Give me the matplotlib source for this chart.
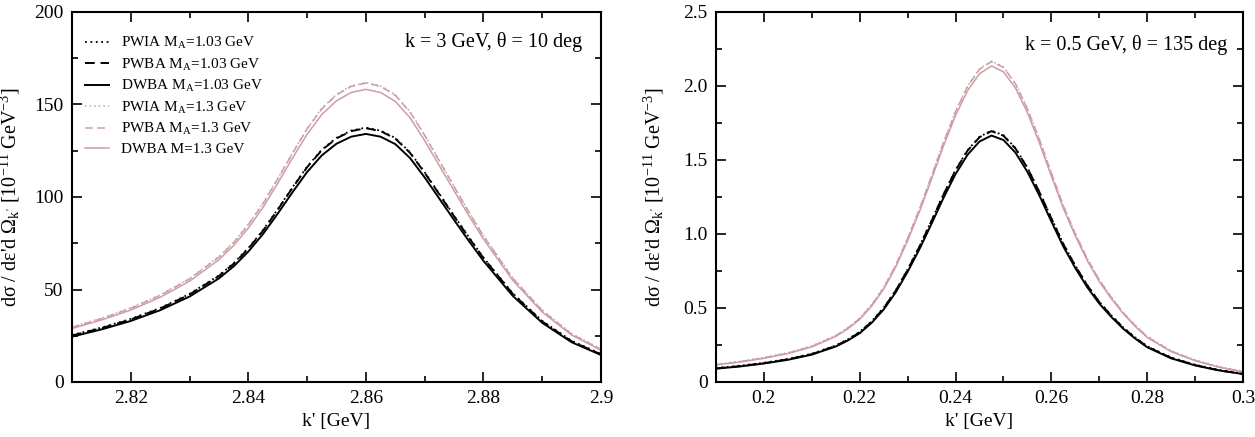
import matplotlib
matplotlib.use("Agg")
import matplotlib.pyplot as plt
from matplotlib.ticker import MultipleLocator

plt.rcParams['font.family'] = ['Liberation Serif', 'DejaVu Serif']
plt.rcParams['mathtext.fontset'] = 'custom'
plt.rcParams['mathtext.rm'] = 'Liberation Serif'
plt.rcParams['mathtext.it'] = 'Liberation Serif:italic'

# left panel: k = 3 GeV, theta = 10 deg
kp_left = [2.81, 2.815, 2.82, 2.825, 2.83, 2.835, 2.8375, 2.84, 2.8425, 2.845, 2.8475,
           2.85, 2.8525, 2.855, 2.8575, 2.86, 2.8625, 2.865, 2.8675, 2.87, 2.8725,
           2.875, 2.8775, 2.88, 2.885, 2.89, 2.895, 2.9]
pwia_103_left = [25.4, 29.4, 34.1, 40.0, 47.6, 57.6, 64.2, 72.4, 82.1, 93.4, 105.2,
                 116.4, 125.6, 132.0, 135.9, 137.5, 135.9, 131.9, 124.2, 113.4, 101.7,
                 89.9, 78.4, 67.3, 47.9, 33.0, 22.3, 15.2]
pwba_103_left = [25.1, 29.1, 33.8, 39.7, 47.3, 57.3, 63.9, 72.1, 81.8, 93.1, 104.9,
                 116.1, 125.3, 131.7, 135.6, 137.2, 135.6, 131.6, 123.9, 113.1, 101.4,
                 89.6, 78.1, 67.0, 47.6, 32.7, 22.0, 14.9]
dwba_103_left = [24.5, 28.4, 33.0, 38.8, 46.2, 56.0, 62.5, 70.5, 80.0, 91.0, 102.5,
                 113.5, 122.5, 128.8, 132.6, 134.1, 132.6, 128.6, 121.1, 110.6, 99.1,
                 87.6, 76.3, 65.5, 46.5, 32.0, 21.5, 14.6]
pwia_13_left = [29.8, 34.5, 40.1, 47.1, 56.0, 67.8, 75.6, 85.3, 96.7, 110.0, 123.8,
                137.1, 147.9, 155.5, 160.1, 161.9, 160.1, 155.3, 146.2, 133.6, 119.7,
                105.9, 92.2, 79.2, 56.3, 38.9, 26.2, 17.9]
pwba_13_left = [29.5, 34.2, 39.8, 46.8, 55.7, 67.5, 75.3, 85.0, 96.4, 109.7, 123.5,
                136.8, 147.6, 155.2, 159.8, 161.6, 159.8, 155.0, 145.9, 133.3, 119.4,
                105.6, 91.9, 78.9, 56.0, 38.6, 25.9, 17.6]
dwba_13_left = [28.9, 33.5, 38.9, 45.8, 54.5, 66.1, 73.8, 83.2, 94.4, 107.4, 121.0,
                133.9, 144.6, 152.0, 156.5, 158.2, 156.5, 151.7, 142.9, 130.5, 116.9,
                103.4, 90.0, 77.3, 54.9, 37.8, 25.4, 17.2]

# right panel: k = 0.5 GeV, theta = 135 deg
kp_right = [0.19, 0.195, 0.2, 0.205, 0.21, 0.215, 0.2175, 0.22, 0.2225, 0.225, 0.2275,
            0.23, 0.2325, 0.235, 0.2375, 0.24, 0.2425, 0.245, 0.2475, 0.25, 0.2525,
            0.255, 0.2575, 0.26, 0.2625, 0.265, 0.2675, 0.27, 0.2725, 0.275, 0.2775,
            0.28, 0.285, 0.29, 0.295, 0.3]
pwia_103_right = [0.095, 0.110, 0.130, 0.156, 0.191, 0.247, 0.288, 0.339, 0.410, 0.502,
                  0.619, 0.761, 0.919, 1.092, 1.270, 1.433, 1.566, 1.657, 1.698, 1.667,
                  1.581, 1.449, 1.286, 1.108, 0.934, 0.787, 0.655, 0.543, 0.451, 0.369,
                  0.301, 0.242, 0.166, 0.117, 0.082, 0.058]
pwba_103_right = [0.092, 0.107, 0.127, 0.153, 0.188, 0.244, 0.285, 0.336, 0.407, 0.499,
                  0.616, 0.758, 0.916, 1.089, 1.267, 1.430, 1.563, 1.654, 1.695, 1.664,
                  1.578, 1.446, 1.283, 1.105, 0.931, 0.784, 0.652, 0.540, 0.448, 0.366,
                  0.298, 0.239, 0.163, 0.114, 0.079, 0.055]
dwba_103_right = [0.090, 0.105, 0.125, 0.150, 0.185, 0.240, 0.280, 0.330, 0.400, 0.490,
                  0.605, 0.745, 0.900, 1.070, 1.245, 1.405, 1.535, 1.625, 1.665, 1.635,
                  1.550, 1.420, 1.260, 1.085, 0.915, 0.770, 0.640, 0.530, 0.440, 0.360,
                  0.293, 0.235, 0.160, 0.112, 0.078, 0.054]
pwia_13_right = [0.120, 0.140, 0.166, 0.198, 0.244, 0.315, 0.367, 0.432, 0.523, 0.640,
                 0.790, 0.972, 1.173, 1.394, 1.622, 1.830, 1.999, 2.116, 2.168, 2.129,
                 2.018, 1.849, 1.641, 1.414, 1.193, 1.004, 0.835, 0.692, 0.575, 0.471,
                 0.384, 0.309, 0.211, 0.149, 0.104, 0.073]
pwba_13_right = [0.117, 0.137, 0.163, 0.195, 0.241, 0.312, 0.364, 0.429, 0.520, 0.637,
                 0.787, 0.969, 1.170, 1.391, 1.619, 1.827, 1.996, 2.113, 2.165, 2.126,
                 2.015, 1.846, 1.638, 1.411, 1.190, 1.001, 0.832, 0.689, 0.572, 0.468,
                 0.381, 0.306, 0.208, 0.146, 0.101, 0.070]
dwba_13_right = [0.115, 0.135, 0.160, 0.192, 0.237, 0.308, 0.359, 0.423, 0.513, 0.628,
                 0.776, 0.955, 1.154, 1.372, 1.596, 1.801, 1.968, 2.083, 2.135, 2.096,
                 1.987, 1.820, 1.615, 1.391, 1.173, 0.987, 0.820, 0.679, 0.564, 0.462,
                 0.376, 0.301, 0.205, 0.144, 0.100, 0.069]

labels = ["PWIA M$_\\mathrm{A}$=1.03 GeV", "PWBA M$_\\mathrm{A}$=1.03 GeV",
          "DWBA M$_\\mathrm{A}$=1.03 GeV", "PWIA M$_\\mathrm{A}$=1.3 GeV",
          "PWBA M$_\\mathrm{A}$=1.3 GeV", "DWBA M=1.3 GeV"]

black = "black"
pink = "#cc9ea4"
dotted = (0, (1, 2))
dashed = (0, (5, 3))
styles = [(black, dotted, 1.3), (black, dashed, 1.4), (black, '-', 1.4),
          (pink, dotted, 1.1), (pink, dashed, 1.1), (pink, '-', 1.1)]

ylab = "d\u03c3 / d\u03b5'd \u03a9$_\\mathrm{k'}$ [10$^{-11}$ GeV$^{-3}$]"

fig = plt.figure(figsize=(12.55, 4.37), dpi=100)
axL = fig.add_axes([72 / 1255, 55 / 437, 529 / 1255, 370 / 437])
axR = fig.add_axes([716 / 1255, 55 / 437, 527 / 1255, 370 / 437])

left_series = [pwia_103_left, pwba_103_left, dwba_103_left,
               pwia_13_left, pwba_13_left, dwba_13_left]
right_series = [pwia_103_right, pwba_103_right, dwba_103_right,
                pwia_13_right, pwba_13_right, dwba_13_right]

for ys, (c, ls, lw), lab in zip(left_series, styles, labels):
    axL.plot(kp_left, ys, color=c, linestyle=ls, linewidth=lw, label=lab)
for ys, (c, ls, lw) in zip(right_series, styles):
    axR.plot(kp_right, ys, color=c, linestyle=ls, linewidth=lw)

axL.set_xlim(2.81, 2.9)
axL.set_ylim(0, 200)
axL.set_xticks([2.82, 2.84, 2.86, 2.88, 2.9], ["2.82", "2.84", "2.86", "2.88", "2.9"])
axL.set_yticks([0, 50, 100, 150, 200], ["0", "50", "100", "150", "200"])
axL.xaxis.set_minor_locator(MultipleLocator(0.01))
axL.yaxis.set_minor_locator(MultipleLocator(25))

axR.set_xlim(0.19, 0.3)
axR.set_ylim(0, 2.5)
axR.set_xticks([0.2, 0.22, 0.24, 0.26, 0.28, 0.3],
               ["0.2", "0.22", "0.24", "0.26", "0.28", "0.3"])
axR.set_yticks([0, 0.5, 1.0, 1.5, 2.0, 2.5], ["0", "0.5", "1.0", "1.5", "2.0", "2.5"])
axR.xaxis.set_minor_locator(MultipleLocator(0.01))
axR.yaxis.set_minor_locator(MultipleLocator(0.25))

for ax in (axL, axR):
    for sp in ax.spines.values():
        sp.set_linewidth(1.5)
    ax.tick_params(which='both', direction='in', top=True, right=True,
                   labelsize=14, pad=6, width=1.2)
    ax.tick_params(which='major', length=7)
    ax.tick_params(which='minor', length=4)
    ax.set_xlabel("k' [GeV]", fontsize=14, labelpad=4)
    ax.set_ylabel(ylab, fontsize=14.5)
    ax.yaxis.set_label_coords(-0.095, 0.5)

axL.text(0.965, 0.92, "k = 3 GeV, \u03b8 = 10 deg", transform=axL.transAxes,
         ha='right', va='center', fontsize=14.5)
axR.text(0.97, 0.91, "k = 0.5 GeV, \u03b8 = 135 deg", transform=axR.transAxes,
         ha='right', va='center', fontsize=14.5)

axL.legend(loc='upper left', bbox_to_anchor=(0.025, 0.937), frameon=False,
           fontsize=11, handlelength=1.55, handletextpad=0.8,
           labelspacing=0.35, borderpad=0, borderaxespad=0)

fig.savefig("out.png", dpi=100)
